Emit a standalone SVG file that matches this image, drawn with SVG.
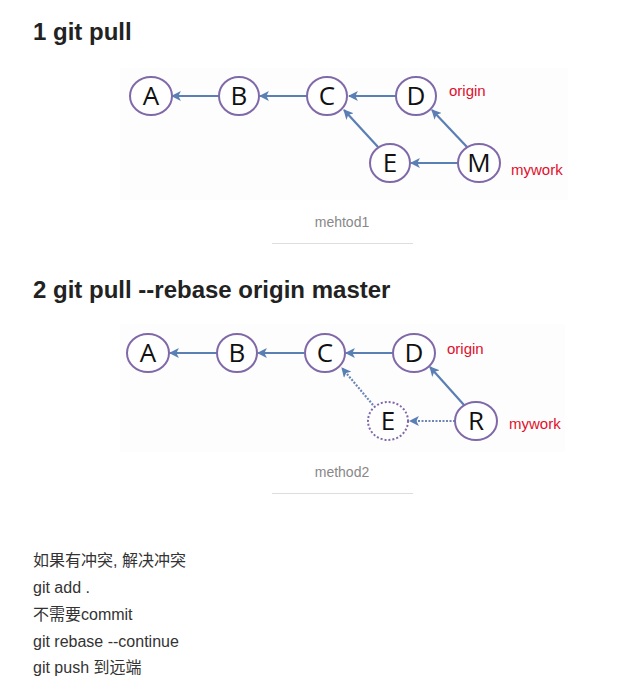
<svg xmlns="http://www.w3.org/2000/svg" width="633" height="693" viewBox="0 0 633 693">
<style>
.h{font-family:"Liberation Sans",Arial,sans-serif;font-weight:bold;font-size:24px;fill:#222}
.n ellipse{fill:#fff;stroke:#8069a8;stroke-width:2}
.n text{font-family:"Open Sans","DejaVu Sans",sans-serif;font-size:26px;fill:#111;text-anchor:middle}
.dot ellipse{stroke-dasharray:2 2}
.lbl{font-family:"Liberation Sans",Arial,sans-serif;font-size:15px;fill:#e0102a}
.cap{font-family:"Liberation Sans",Arial,sans-serif;font-size:14px;fill:#888;text-anchor:middle}
.body{font-family:"Liberation Sans","Noto Sans CJK SC",sans-serif;font-size:16px;fill:#333}
.e{stroke:#5a7fb5;stroke-width:2.2;fill:none;marker-end:url(#ah)}
.ed{stroke:#6d86b8;stroke-width:2.2;fill:none;stroke-dasharray:2 1.5;marker-end:url(#ah)}
</style>
<defs>
<marker id="ah" viewBox="0 0 10 10" refX="9" refY="5" markerWidth="4.5" markerHeight="4.5" orient="auto" markerUnits="strokeWidth">
<path d="M0,0 L10,5 L0,10 L2.5,5 z" fill="#5a7fb5"/>
</marker>
</defs>
<rect width="633" height="693" fill="#fff"/>
<rect x="120" y="68" width="448" height="132" fill="#fdfdfe"/>
<rect x="120" y="324" width="445" height="128" fill="#fdfdfe"/>
<text class="h" x="33" y="40">1 git pull</text>
<text class="h" x="33" y="298">2 git pull --rebase origin master</text>
<g id="connectors1">
<line class="e" x1="219" y1="96" x2="172" y2="96"/>
<line class="e" x1="307" y1="96" x2="260" y2="96"/>
<line class="e" x1="396" y1="96" x2="349" y2="96"/>
<line class="e" x1="378" y1="147" x2="344" y2="110"/>
<line class="e" x1="467" y1="147" x2="432" y2="110"/>
<line class="e" x1="458" y1="163" x2="411" y2="163"/>
</g>
<g id="d1A" class="n"><ellipse cx="151" cy="96" rx="21" ry="19"/><text x="151" y="105">A</text></g>
<g id="d1B" class="n"><ellipse cx="239" cy="96" rx="20" ry="19"/><text x="239" y="105">B</text></g>
<g id="d1C" class="n"><ellipse cx="327" cy="96" rx="20" ry="19"/><text x="327" y="105">C</text></g>
<g id="d1D" class="n"><ellipse cx="416" cy="96" rx="20" ry="19"/><text x="416" y="105">D</text></g>
<g id="d1E" class="n"><ellipse cx="390" cy="163" rx="20" ry="19"/><text x="390" y="172">E</text></g>
<g id="d1M" class="n"><ellipse cx="479" cy="163" rx="21" ry="19"/><text x="479" y="172">M</text></g>
<text class="lbl" x="449" y="96">origin</text>
<text class="lbl" x="511" y="175">mywork</text>
<text class="cap" x="342" y="227">mehtod1</text>
<line x1="272" y1="243.5" x2="413" y2="243.5" stroke="#ddd" stroke-width="1"/>
<g id="connectors2">
<line class="e" x1="217" y1="353" x2="170" y2="353"/>
<line class="e" x1="304" y1="353" x2="258" y2="353"/>
<line class="e" x1="393" y1="353" x2="346" y2="353"/>
<line class="ed" x1="373" y1="405" x2="342" y2="368"/>
<line class="e" x1="464" y1="405" x2="430" y2="367"/>
<line class="ed" x1="455" y1="421" x2="410" y2="421"/>
</g>
<g id="d2A" class="n"><ellipse cx="148" cy="353" rx="21" ry="19"/><text x="148" y="362">A</text></g>
<g id="d2B" class="n"><ellipse cx="237" cy="353" rx="20" ry="19"/><text x="237" y="362">B</text></g>
<g id="d2C" class="n"><ellipse cx="325" cy="353" rx="20" ry="19"/><text x="325" y="362">C</text></g>
<g id="d2D" class="n"><ellipse cx="414" cy="353" rx="21" ry="19"/><text x="414" y="362">D</text></g>
<g id="d2E" class="n dot"><ellipse cx="388" cy="421" rx="20" ry="19"/><text x="388" y="430">E</text></g>
<g id="d2R" class="n"><ellipse cx="476" cy="421" rx="21" ry="19"/><text x="476" y="430">R</text></g>
<text class="lbl" x="447" y="354">origin</text>
<text class="lbl" x="509" y="429">mywork</text>
<text class="cap" x="342" y="477">method2</text>
<line x1="272" y1="493.5" x2="413" y2="493.5" stroke="#ddd" stroke-width="1"/>
<g class="body">
<text x="33" y="566">如果有冲突, 解决冲突</text>
<text x="33" y="593">git add .</text>
<text x="33" y="620">不需要commit</text>
<text x="33" y="647">git rebase --continue</text>
<text x="33" y="673">git push 到远端</text>
</g>
</svg>
